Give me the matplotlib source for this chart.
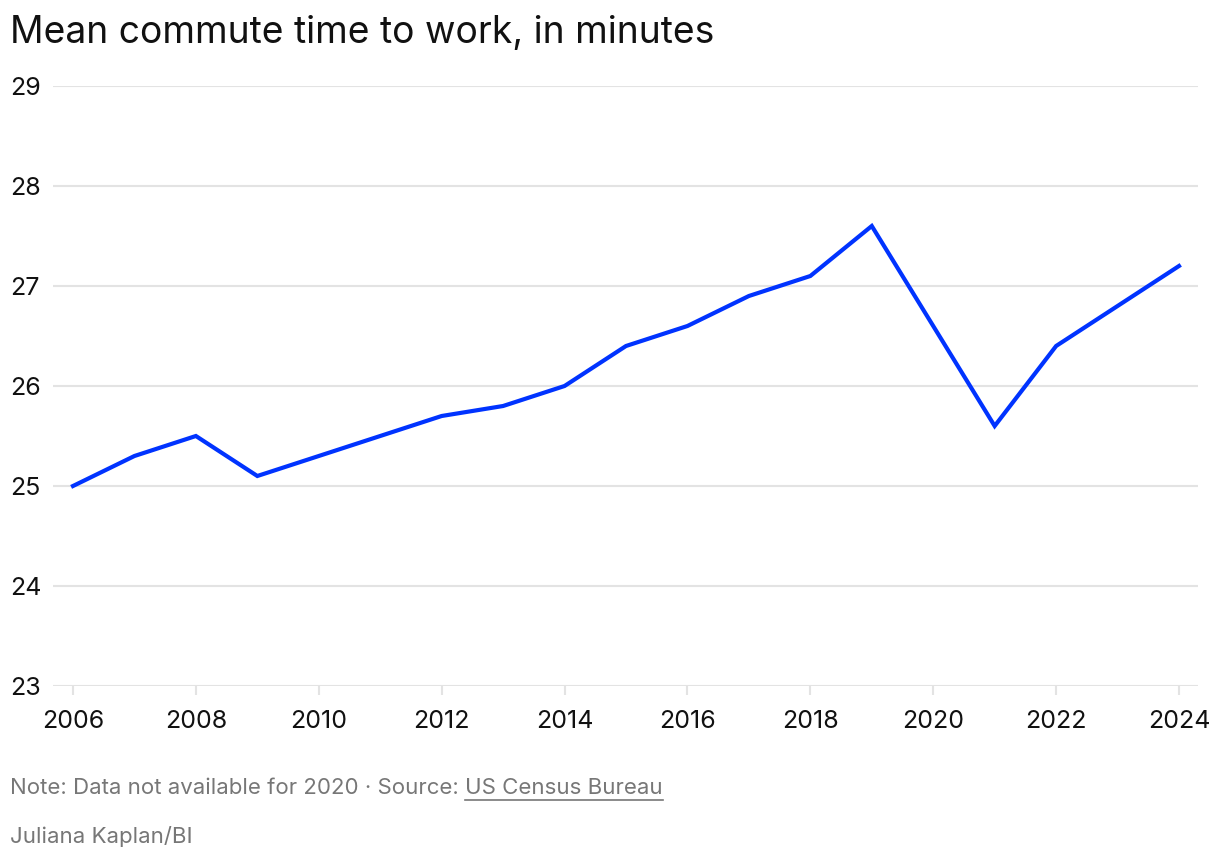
import matplotlib
matplotlib.use("Agg")
import matplotlib.pyplot as plt
import numpy as np

plt.rcParams['font.family'] = ['Inter', 'DejaVu Sans']

years = [2006, 2007, 2008, 2009, 2010, 2011, 2012, 2013, 2014, 2015, 2016, 2017, 2018, 2019, 2021, 2022, 2023, 2024]
commute = [25.0, 25.3, 25.5, 25.1, 25.3, 25.5, 25.7, 25.8, 26.0, 26.4, 26.6, 26.9, 27.1, 27.6, 25.6, 26.4, 26.8, 27.2]
y_ticks = [23, 24, 25, 26, 27, 28, 29]
x_ticks = [2006, 2008, 2010, 2012, 2014, 2016, 2018, 2020, 2022, 2024]

title = "Mean commute time to work, in minutes"
note = "Note: Data not available for 2020 \u00b7 Source: "
source = "US Census Bureau"
credit = "Juliana Kaplan/BI"

W, H = 1220, 860
fig = plt.figure(figsize=(W / 100, H / 100), dpi=100)
ax = fig.add_axes([53 / W, 1 - 686 / H, (1198 - 53) / W, 600 / H])

ax.plot(years, commute, color='#0033ff', lw=3.0, solid_joinstyle='miter', zorder=3, clip_on=False)

ax.set_ylim(23, 29)
ax.set_xlim(2006 - 20 / 61.44, 2024 + 19 / 61.44)
ax.set_yticks(y_ticks)
ax.set_xticks(x_ticks)
ax.set_xticklabels([str(x) for x in x_ticks])
ax.set_yticklabels([str(y) for y in y_ticks])
ax.grid(axis='y', color='#e3e3e3', lw=1.5)
ax.set_axisbelow(True)
for s in ax.spines.values():
    s.set_visible(False)
ax.tick_params(axis='y', length=0, pad=31, labelsize=18, labelcolor='#111111')
for lab in ax.get_yticklabels():
    lab.set_horizontalalignment('left')
ax.tick_params(axis='x', length=6.5, width=1.5, color='#e3e3e3', pad=11, labelsize=18, labelcolor='#111111')

fig.text(10 / W, 1 - 43 / H, title, fontsize=26.8, color='#111111', va='baseline', ha='left')

t_note = fig.text(10 / W, 1 - 794 / H, note, fontsize=16, color='#777777', va='baseline', ha='left')
fig.canvas.draw()
r = fig.canvas.get_renderer()
bb = t_note.get_window_extent(renderer=r)
x_src = bb.x1 / W
t_src = fig.text(x_src, 1 - 794 / H, source, fontsize=16, color='#777777', va='baseline', ha='left')
fig.canvas.draw()
bb2 = t_src.get_window_extent(renderer=r)
uy = (H - 800) / H
fig.add_artist(plt.Line2D([bb2.x0 / W, bb2.x1 / W], [uy, uy], color='#777777', lw=1.2, transform=fig.transFigure))

fig.text(10 / W, 1 - 843 / H, credit, fontsize=16, color='#777777', va='baseline', ha='left')

fig.savefig('out.png', dpi=100, facecolor='white')
